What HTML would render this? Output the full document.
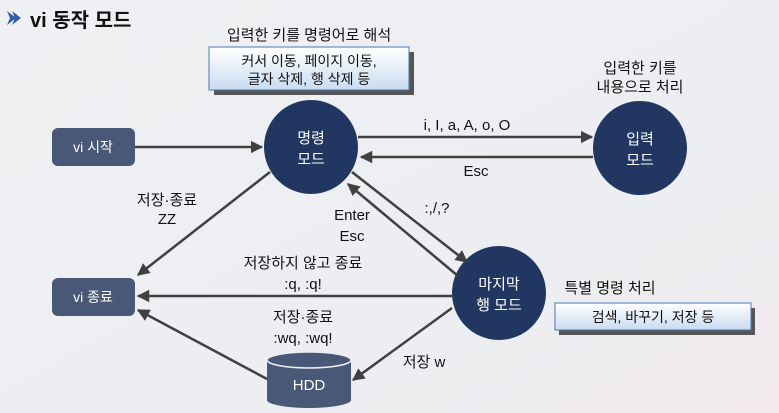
<!DOCTYPE html>
<html><head><meta charset="utf-8"><style>
html,body{margin:0;padding:0;width:779px;height:413px;overflow:hidden;background:#eceef1;}
svg{display:block}
text{font-family:"Liberation Sans","Noto Sans CJK KR",sans-serif;}
</style></head><body>
<svg width="779" height="413" viewBox="0 0 779 413" xmlns="http://www.w3.org/2000/svg">
<defs>
<linearGradient id="bg" x1="0" y1="0" x2="1" y2="1"><stop offset="0" stop-color="#eef0f3"/><stop offset="0.7" stop-color="#eceef1"/><stop offset="1" stop-color="#f1e9ec"/></linearGradient>
<linearGradient id="bx" x1="0" y1="0" x2="0" y2="1"><stop offset="0" stop-color="#ffffff"/><stop offset="1" stop-color="#c9dcf0"/></linearGradient>
<marker id="a" viewBox="0 0 10 10" refX="9" refY="5" markerWidth="5" markerHeight="5" orient="auto"><path d="M0,0L10,5L0,10z" fill="#404040"/></marker>
</defs>
<rect width="779" height="413" fill="url(#bg)"/>
<path d="M7,11 L16,18 L7,25 L10,18 Z M12,11 L21,18 L12,25 L15,18Z" fill="#2f5da8"/>
<text x="30" y="27" font-size="20" font-weight="bold" fill="#111">vi 동작 모드</text>
<text x="309" y="40" font-size="15" text-anchor="middle" fill="#111">입력한 키를 명령어로 해석</text>
<rect x="214" y="52" width="200" height="43" fill="#555"/>
<rect x="209" y="47" width="200" height="43" fill="url(#bx)" stroke="#4a76b8" stroke-width="1"/>
<text x="309" y="66" font-size="14" text-anchor="middle" fill="#111">커서 이동, 페이지 이동,</text>
<text x="309" y="84" font-size="14" text-anchor="middle" fill="#111">글자 삭제, 행 삭제 등</text>
<text x="640" y="73" font-size="15" text-anchor="middle" fill="#111">입력한 키를</text>
<text x="640" y="92" font-size="15" text-anchor="middle" fill="#111">내용으로 처리</text>
<rect x="52" y="128" width="83" height="38" rx="6" fill="#4a5878"/>
<text x="93" y="152" font-size="14" text-anchor="middle" fill="#fff">vi 시작</text>
<rect x="52" y="278" width="83" height="38" rx="6" fill="#4a5878"/>
<text x="93" y="302" font-size="14" text-anchor="middle" fill="#fff">vi 종료</text>
<circle cx="311" cy="147" r="47" fill="#213762"/>
<text x="311" y="143" font-size="15" text-anchor="middle" fill="#fff">명령</text>
<text x="311" y="164" font-size="15" text-anchor="middle" fill="#fff">모드</text>
<circle cx="640" cy="148" r="47" fill="#213762"/>
<text x="640" y="144" font-size="15" text-anchor="middle" fill="#fff">입력</text>
<text x="640" y="165" font-size="15" text-anchor="middle" fill="#fff">모드</text>
<circle cx="499" cy="293" r="47" fill="#213762"/>
<text x="499" y="289" font-size="15" text-anchor="middle" fill="#fff">마지막</text>
<text x="499" y="310" font-size="15" text-anchor="middle" fill="#fff">행 모드</text>
<path d="M267,360 L267,400 A42,8 0 0 0 351,400 L351,360 Z" fill="#4a5878"/>
<ellipse cx="309" cy="360" rx="42" ry="8" fill="#4a5878" stroke="#eef0f3" stroke-width="1.5"/>
<text x="309" y="390" font-size="15" text-anchor="middle" fill="#fff">HDD</text>
<g stroke="#404040" stroke-width="2.5" fill="none" marker-end="url(#a)">
<line x1="135" y1="147" x2="262" y2="147"/>
<line x1="358" y1="137" x2="592" y2="137"/>
<line x1="593" y1="157" x2="361" y2="157"/>
<line x1="270" y1="172" x2="138" y2="275"/>
<line x1="352" y1="172" x2="467" y2="262"/>
<line x1="458" y1="276" x2="348" y2="184"/>
<line x1="452" y1="296" x2="138" y2="296"/>
<line x1="267" y1="379" x2="138" y2="310"/>
<line x1="452" y1="308" x2="353" y2="380"/>
</g>
<g font-size="15" fill="#111" text-anchor="middle">
<text x="467" y="130">i, I, a, A, o, O</text>
<text x="476" y="176">Esc</text>
<text x="167" y="205">저장·종료</text>
<text x="167" y="224">ZZ</text>
<text x="352" y="220">Enter</text>
<text x="352" y="241">Esc</text>
<text x="437" y="213">:,/,?</text>
<text x="303" y="268">저장하지 않고 종료</text>
<text x="303" y="289">:q, :q!</text>
<text x="303" y="322">저장·종료</text>
<text x="303" y="343">:wq, :wq!</text>
<text x="424" y="367">저장 w</text>
<text x="610" y="293">특별 명령 처리</text>
</g>
<rect x="559" y="308" width="196" height="27" fill="#555"/>
<rect x="555" y="303" width="196" height="27" fill="url(#bx)" stroke="#4a76b8" stroke-width="1"/>
<text x="653" y="322" font-size="14" text-anchor="middle" fill="#111">검색, 바꾸기, 저장 등</text>
</svg>
</body></html>
